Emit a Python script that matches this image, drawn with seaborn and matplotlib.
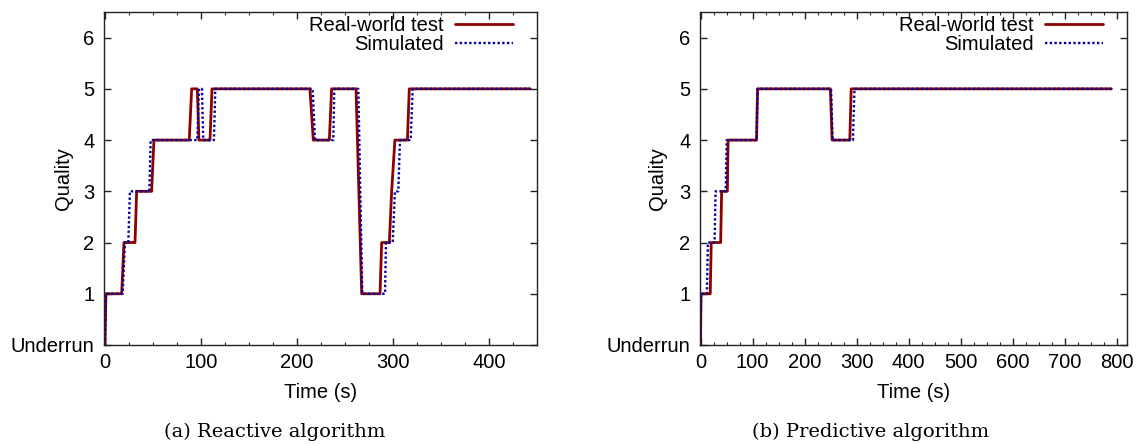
import matplotlib
matplotlib.use("Agg")
import matplotlib.pyplot as plt
from matplotlib.ticker import MultipleLocator
import seaborn as sns
import pandas as pd

# ---------------- data ----------------
reactive_real_t = [0, 1, 17.4, 19.8, 31.3, 33, 48.6, 51, 87.8, 90.3, 96.2, 97.9, 109.4, 111.5,
                   213.5, 217, 233.7, 236.1, 261.5, 267.4, 286.5, 288.2, 296.2, 298.6, 302,
                   315, 317, 443]
reactive_real_q = [0, 1, 1, 2, 2, 3, 3, 4, 4, 5, 5, 4, 4, 5,
                   5, 4, 4, 5, 5, 1, 1, 2, 2, 3, 4,
                   4, 5, 5]
reactive_sim_t = [0, 1, 18.4, 20.8, 24.3, 26, 46.2, 47.6, 96.2, 97.9, 101, 102.4, 113.5, 114.9,
                  216.3, 218.8, 237.8, 238.9, 263.9, 268, 291.7, 292.7, 299.7, 302, 305.5,
                  307.3, 318.4, 320.5, 443]
reactive_sim_q = [0, 1, 1, 2, 2, 3, 3, 4, 4, 5, 5, 4, 4, 5,
                  5, 4, 4, 5, 5, 1, 1, 2, 2, 3, 3,
                  4, 4, 5, 5]

predictive_real_t = [0, 1, 18.7, 20.6, 38.7, 40.6, 51.6, 53, 107.7, 109.7, 249.7, 253, 287, 289.7, 790]
predictive_real_q = [0, 1, 1, 2, 2, 3, 3, 4, 4, 5, 5, 4, 4, 5, 5]
predictive_sim_t = [0, 1, 12.3, 14.2, 27, 29, 48.4, 50.3, 107.7, 109.7, 251, 254, 293, 296, 790]
predictive_sim_q = [0, 1, 1, 2, 2, 3, 3, 4, 4, 5, 5, 4, 4, 5, 5]

series_labels = ["Real-world test", "Simulated"]
y_tick_values = [0, 1, 2, 3, 4, 5, 6]
y_tick_labels = ["Underrun", "1", "2", "3", "4", "5", "6"]
x_label = "Time (s)"
y_label = "Quality"
captions = ["(a) Reactive algorithm", "(b) Predictive algorithm"]

# ---------------- style ----------------
sns.set_style("ticks")
plt.rcParams["font.family"] = ["Liberation Sans", "DejaVu Sans"]
plt.rcParams["axes.edgecolor"] = "#222222"
plt.rcParams["axes.linewidth"] = 1.0
plt.rcParams["text.color"] = "black"
plt.rcParams["axes.labelcolor"] = "black"

W, H = 1141, 444
fig = plt.figure(figsize=(W / 100, H / 100), dpi=100)

def px_axes(l, t, r, b):
    return fig.add_axes([l / W, 1 - b / H, (r - l) / W, (b - t) / H])

ax_a = px_axes(104, 12, 537, 345)
ax_b = px_axes(700, 12, 1127, 345)

RED = "#8b0000"
BLUE = "#0000a8"
FS = 14.5

panels = [
    dict(ax=ax_a, rt=reactive_real_t, rq=reactive_real_q, st=reactive_sim_t, sq=reactive_sim_q,
         xlim=(-1, 450), cap=captions[0], cap_x=275, ylab_x=64),
    dict(ax=ax_b, rt=predictive_real_t, rq=predictive_real_q, st=predictive_sim_t, sq=predictive_sim_q,
         xlim=(-1, 820), cap=captions[1], cap_x=871, ylab_x=657),
]

for p in panels:
    ax = p["ax"]
    df_r = pd.DataFrame({"t": p["rt"], "q": p["rq"]})
    df_s = pd.DataFrame({"t": p["st"], "q": p["sq"]})
    sns.lineplot(data=df_r, x="t", y="q", ax=ax, color=RED, linewidth=2.0,
                 sort=False, estimator=None, label=series_labels[0])
    sns.lineplot(data=df_s, x="t", y="q", ax=ax, color=BLUE, linewidth=1.7,
                 linestyle=(0, (1.0, 1.0)), sort=False, estimator=None,
                 label=series_labels[1])
    ax.set_xlim(*p["xlim"])
    ax.set_ylim(0, 6.5)
    ax.set_yticks(y_tick_values)
    ax.set_yticklabels(y_tick_labels)
    ax.xaxis.set_major_locator(MultipleLocator(100))
    ax.xaxis.set_minor_locator(MultipleLocator(25))
    ax.tick_params(axis="both", which="both", direction="in", top=True, right=True,
                   labelsize=FS, colors="#222222", labelcolor="black")
    ax.tick_params(axis="both", which="major", length=5, width=1.0)
    ax.tick_params(axis="both", which="minor", length=2.5, width=0.8)
    ax.tick_params(axis="y", pad=7)
    ax.tick_params(axis="x", pad=6)
    for s in ax.spines.values():
        s.set_visible(True)
    ax.set_xlabel(x_label, fontsize=FS, color="black")
    ax.set_ylabel(y_label, fontsize=FS, color="black")
    l, b, w, h = ax.get_position().bounds
    ax.xaxis.set_label_coords(0.5, (1 - 393 / H - b) / h)
    ax.yaxis.set_label_coords((p["ylab_x"] / W - l) / w, 0.5)
    ax.xaxis.label.set_va("center")
    ax.yaxis.label.set_va("center")
    leg = ax.legend(loc="upper right", bbox_to_anchor=(1 - 24 / (w * W), 1 - 4 / 333),
                    frameon=False, markerfirst=False, fontsize=FS,
                    handlelength=2.9, handletextpad=0.55, labelspacing=0.02,
                    borderaxespad=0, borderpad=0)
    for t in leg.get_texts():
        t.set_color("black")
    fig.text(p["cap_x"] / W, 1 - 432 / H, p["cap"], ha="center", va="center",
             family="DejaVu Serif", fontsize=14, color="black")

fig.savefig("out.png", dpi=100)
